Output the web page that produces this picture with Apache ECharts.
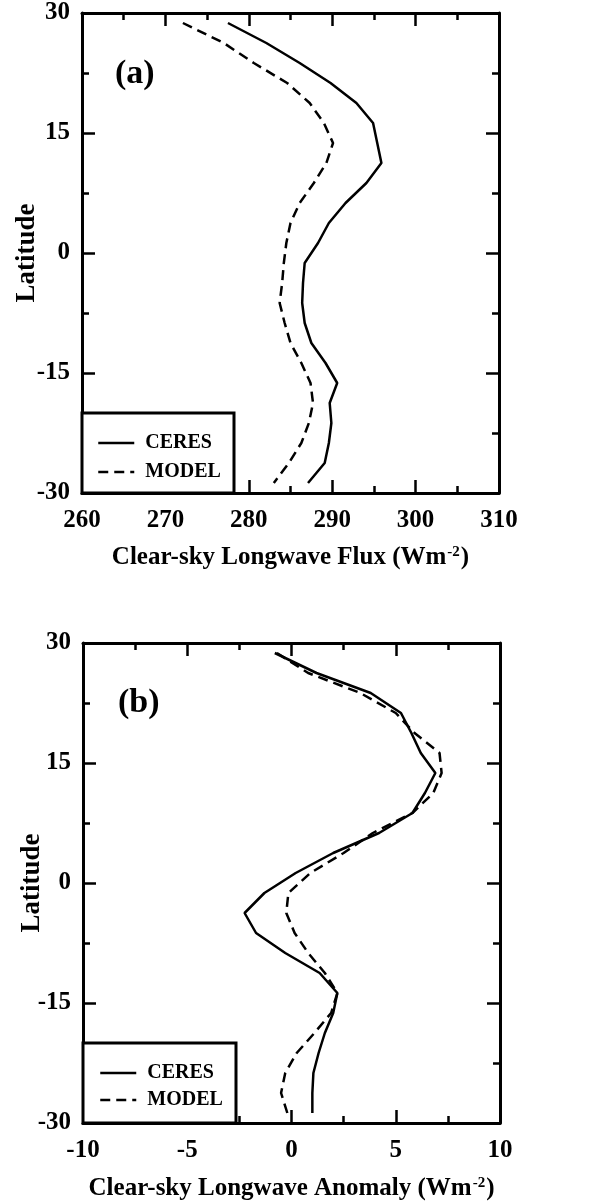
<!DOCTYPE html>
<html>
<head>
<meta charset="utf-8">
<script src="https://cdn.jsdelivr.net/npm/echarts@6/dist/echarts.min.js"></script>
<style>
  html, body { margin: 0; padding: 0; background: #fff; }
  #main { width: 610px; height: 1202px; }
</style>
</head>
<body>
<div id="main"></div>
<script>
// latitude bands (deg)
const latitude = [28.75, 26.25, 23.75, 21.25, 18.75, 16.25, 13.75, 11.25, 8.75, 6.25, 3.75, 1.25,
  -1.25, -3.75, -6.25, -8.75, -11.25, -13.75, -16.25, -18.75, -21.25, -23.75, -26.25, -28.75];

// (a) clear-sky longwave flux, Wm-2
const ceresFlux = [277.5, 282.1, 286.1, 289.8, 292.9, 294.9, 295.4, 295.9, 294.1, 291.6, 289.6, 288.3,
  286.7, 286.5, 286.4, 286.7, 287.5, 289.2, 290.6, 289.7, 289.9, 289.6, 289.1, 287.1];
const modelFlux = [272.1, 277.0, 280.6, 284.6, 287.3, 289.0, 290.1, 289.3, 287.8, 286.1, 285.0, 284.5,
  284.2, 284.0, 283.7, 284.3, 285.0, 286.3, 287.4, 287.7, 287.2, 286.3, 284.8, 283.0];

// (b) clear-sky longwave anomaly, Wm-2
const ceresAnom = [-0.8, 1.2, 3.8, 5.25, 5.75, 6.2, 6.9, 6.4, 5.8, 4.2, 2.0, 0.2,
  -1.3, -2.25, -1.7, -0.3, 1.35, 2.2, 2.0, 1.6, 1.3, 1.05, 1.0, 1.0];
const modelAnom = [-0.7, 0.8, 3.3, 5.0, 5.9, 7.1, 7.2, 6.8, 5.8, 3.9, 2.5, 0.9,
  -0.15, -0.25, 0.15, 0.8, 1.6, 2.2, 1.9, 1.1, 0.25, -0.3, -0.5, -0.2];

const fluxTicks = { min: 260, max: 310, interval: 10 };
const anomTicks = { min: -10, max: 10, interval: 5 };
const latTicks = { min: -30, max: 30, interval: 15 };

const FONT = 'Liberation Serif';
const black = '#000';

function pairs(vals) {
  return vals.map((v, i) => [v, latitude[i]]);
}

function axis(gridIndex, pos, ticks, showLabel, name, nameGap, nameSize) {
  let a = {
    type: 'value',
    gridIndex: gridIndex,
    position: pos,
    min: ticks.min,
    max: ticks.max,
    interval: ticks.interval,
    splitLine: { show: false },
    axisLine: { show: true, onZero: false, lineStyle: { color: black, width: 3 } },
    axisTick: { show: true, inside: true, length: 13, lineStyle: { color: black, width: 2.5 } },
    minorTick: { show: true, splitNumber: 2, length: 7, lineStyle: { color: black, width: 2.5 } },
    axisLabel: {
      show: showLabel,
      color: black,
      fontFamily: FONT,
      fontWeight: 'bold',
      fontSize: 25,
      margin: (pos === 'left') ? 12 : 15
    }
  };
  if (name) {
    a.name = name;
    a.nameLocation = 'middle';
    a.nameGap = nameGap;
    a.nameMoveOverlap = false;
    a.nameTextStyle = {
      color: black,
      fontFamily: FONT,
      fontWeight: 'bold',
      fontSize: nameSize,
      rich: {
        sup: { fontSize: 15, fontFamily: FONT, fontWeight: 'bold', color: black, verticalAlign: 'top', padding: [0, 1, 9, 1] }
      }
    };
  }
  return a;
}

function lineSeries(name, xi, yi, vals, dashed) {
  return {
    name: name,
    type: 'line',
    xAxisIndex: xi,
    yAxisIndex: yi,
    data: pairs(vals),
    symbol: 'none',
    showSymbol: false,
    color: black,
    lineStyle: { color: black, width: 2.5, type: dashed ? [10, 6] : 'solid' },
    animation: false
  };
}

function legendItem(name, left, top) {
  return {
    data: [name],
    left: left,
    top: top,
    padding: 0,
    itemWidth: 36,
    itemHeight: 20,
    selectedMode: false,
    z: 60,
    itemStyle: { opacity: 0 },
    lineStyle: { width: 2.5 },
    textStyle: { color: black, fontFamily: FONT, fontWeight: 'bold', fontSize: 20, lineHeight: 20, padding: [0, 0, 0, 6] }
  };
}

const chart = echarts.init(document.getElementById('main'));

chart.setOption({
  backgroundColor: '#fff',
  animation: false,
  grid: [
    { left: 82, top: 13, width: 417, height: 480, outerBoundsMode: 'none' },
    { left: 83, top: 643, width: 417, height: 480, outerBoundsMode: 'none' }
  ],
  xAxis: [
    axis(0, 'bottom', fluxTicks, true, 'Clear-sky Longwave Flux (Wm{sup|-2})', 52, 25),
    axis(0, 'top', fluxTicks, false),
    axis(1, 'bottom', anomTicks, true, 'Clear-sky Longwave Anomaly (Wm{sup|-2})', 53, 25),
    axis(1, 'top', anomTicks, false)
  ],
  yAxis: [
    axis(0, 'left', latTicks, true, 'Latitude', 41, 27),
    axis(0, 'right', latTicks, false),
    axis(1, 'left', latTicks, true, 'Latitude', 37, 27),
    axis(1, 'right', latTicks, false)
  ],
  legend: [
    legendItem('CERES', 97, 433),
    legendItem('MODEL', 97, 462),
    legendItem('CERES', 99, 1063),
    legendItem('MODEL', 99, 1090)
  ],
  graphic: [
    { type: 'rect', z: 50, shape: { x: 82, y: 413, width: 152, height: 80 },
      style: { fill: '#fff', stroke: black, lineWidth: 3 } },
    { type: 'rect', z: 50, shape: { x: 83, y: 1043, width: 153, height: 80 },
      style: { fill: '#fff', stroke: black, lineWidth: 3 } },
    { type: 'text', z: 50, x: 115, y: 74,
      style: { text: '(a)', font: 'bold 34px "Liberation Serif"', fill: black, verticalAlign: 'middle' } },
    { type: 'text', z: 50, x: 118, y: 703,
      style: { text: '(b)', font: 'bold 34px "Liberation Serif"', fill: black, verticalAlign: 'middle' } }
  ],
  series: [
    lineSeries('CERES', 0, 0, ceresFlux, false),
    lineSeries('MODEL', 0, 0, modelFlux, true),
    lineSeries('CERES', 2, 2, ceresAnom, false),
    lineSeries('MODEL', 2, 2, modelAnom, true)
  ]
});
</script>
</body>
</html>
